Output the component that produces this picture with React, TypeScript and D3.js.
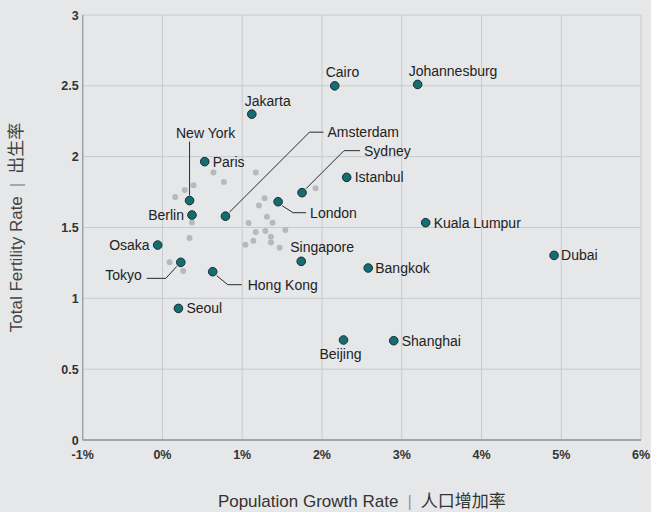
import React from "react";
import * as d3 from "d3";

const cities = ["Cairo","Johannesburg","Jakarta","Paris","New York","Berlin","Amsterdam","London","Sydney","Istanbul","Kuala Lumpur","Osaka","Tokyo","Hong Kong","Seoul","Singapore","Bangkok","Dubai","Beijing","Shanghai"];
const growth = [2.16,3.2,1.12,0.53,0.34,0.37,0.79,1.45,1.75,2.31,3.3,-0.06,0.23,0.63,0.2,1.74,2.58,4.91,2.27,2.9];
const fertility = [2.5,2.51,2.3,1.965,1.69,1.588,1.58,1.682,1.746,1.854,1.534,1.376,1.254,1.188,0.929,1.261,1.214,1.303,0.706,0.701];

const otherGrowth = [0.64,0.77,1.17,0.39,0.28,0.16,1.28,1.21,1.92,1.31,1.38,1.08,0.37,1.54,1.17,1.29,1.36,1.14,1.04,1.36,1.47,0.34,0.09,0.26];
const otherFertility = [1.889,1.821,1.889,1.798,1.765,1.715,1.706,1.656,1.777,1.576,1.534,1.532,1.536,1.482,1.468,1.475,1.435,1.407,1.379,1.395,1.357,1.426,1.254,1.193];

const xTicks = [-1,0,1,2,3,4,5,6];
const yTicks = [0,0.5,1,1.5,2,2.5,3];

type Lab = { dx: number; dy: number; anchor: string; leader?: [number, number][] };
const labels: Record<string, Lab> = {
  "Cairo": { dx: -9, dy: -9, anchor: "start" },
  "Johannesburg": { dx: -9, dy: -8, anchor: "start" },
  "Jakarta": { dx: -7, dy: -8, anchor: "start" },
  "Paris": { dx: 8, dy: 5, anchor: "start" },
  "New York": { dx: 16, dy: -63, anchor: "middle", leader: [[0, -5], [0, -59]] },
  "Berlin": { dx: -8, dy: 5, anchor: "end" },
  "Amsterdam": { dx: 102, dy: -79, anchor: "start", leader: [[4, -4], [84, -84], [98, -84]] },
  "London": { dx: 32, dy: 16, anchor: "start", leader: [[4, 4], [15, 11], [28, 11]] },
  "Sydney": { dx: 62, dy: -37, anchor: "start", leader: [[4, -4], [42, -42], [58, -42]] },
  "Istanbul": { dx: 8, dy: 5, anchor: "start" },
  "Kuala Lumpur": { dx: 8, dy: 5, anchor: "start" },
  "Osaka": { dx: -8, dy: 5, anchor: "end" },
  "Tokyo": { dx: -39, dy: 18, anchor: "end", leader: [[-4, 4], [-15, 16], [-34, 16]] },
  "Hong Kong": { dx: 35, dy: 18, anchor: "start", leader: [[4, 4], [15, 13], [29, 13]] },
  "Seoul": { dx: 8, dy: 5, anchor: "start" },
  "Singapore": { dx: -11, dy: -9, anchor: "start" },
  "Bangkok": { dx: 7, dy: 5, anchor: "start" },
  "Dubai": { dx: 7, dy: 5, anchor: "start" },
  "Beijing": { dx: -3, dy: 19, anchor: "middle" },
  "Shanghai": { dx: 8, dy: 5, anchor: "start" },
};

export default function App() {
  const W = 651, H = 512;
  const x = d3.scaleLinear().domain([-1, 6]).range([82.7, 641]);
  const y = d3.scaleLinear().domain([0, 3]).range([440, 15]);
  const font = "'Liberation Sans', Arial, Helvetica, sans-serif";
  const cjk = "'Liberation Sans', 'Noto Sans CJK SC', sans-serif";

  return (
    <svg width={W} height={H} style={{ position: "absolute", left: 0, top: 0, background: "#e6e7e9" }} fontFamily={font}>
      <rect x={0} y={0} width={W} height={H} fill="#e6e7e9" />
      {xTicks.map((t) => (
        <line key={"gx" + t} x1={x(t)} x2={x(t)} y1={y(3)} y2={y(0)} stroke="#c9cacc" strokeWidth={1} />
      ))}
      {yTicks.map((t) => (
        <line key={"gy" + t} x1={x(-1)} x2={x(6)} y1={y(t)} y2={y(t)} stroke="#c9cacc" strokeWidth={1} />
      ))}
      <line x1={x(-1)} x2={x(-1)} y1={y(3)} y2={y(0)} stroke="#a3a4a6" strokeWidth={1.5} />
      <line x1={x(-1)} x2={x(6)} y1={y(0)} y2={y(0)} stroke="#a3a4a6" strokeWidth={2} />
      {yTicks.map((t) => (
        <text key={"ty" + t} x={x(-1) - 4} y={y(t) + 4.5} textAnchor="end" fontSize={12.5} fontWeight="bold" fill="#333">
          {d3.format("")(t)}
        </text>
      ))}
      {xTicks.map((t) => (
        <text key={"tx" + t} x={x(t)} y={459} textAnchor="middle" fontSize={12.5} fontWeight="bold" fill="#333">
          {t + "%"}
        </text>
      ))}
      {otherGrowth.map((g, i) => (
        <circle key={"o" + i} cx={x(g)} cy={y(otherFertility[i])} r={3} fill="#b8b9bb" />
      ))}
      {cities.map((c, i) => {
        const px = x(growth[i]), py = y(fertility[i]);
        const L = labels[c];
        return (
          <g key={c}>
            {L.leader && (
              <polyline
                points={L.leader.map(([a, b]) => `${px + a},${py + b}`).join(" ")}
                fill="none" stroke="#2a2a2a" strokeWidth={1}
              />
            )}
            <text x={px + L.dx} y={py + L.dy} textAnchor={L.anchor} fontSize={14} fill="#222">{c}</text>
          </g>
        );
      })}
      {cities.map((c, i) => (
        <circle key={"p" + c} cx={x(growth[i])} cy={y(fertility[i])} r={4.3} fill="#136e74" stroke="#1c2b2c" strokeWidth={1} />
      ))}
      <text x={(x(-1) + x(6)) / 2} y={507} textAnchor="middle" fontSize={17} fill="#333" fontFamily={cjk}>
        Population Growth Rate<tspan fill="#999" dx={9}>|</tspan><tspan dx={9}>人口增加率</tspan>
      </text>
      <text transform={`translate(22, ${(y(0) + y(3)) / 2}) rotate(-90)`} textAnchor="middle" fontSize={17} fill="#444" fontFamily={cjk}>
        Total Fertility Rate<tspan fill="#999" dx={9}>|</tspan><tspan dx={9}>出生率</tspan>
      </text>
    </svg>
  );
}
